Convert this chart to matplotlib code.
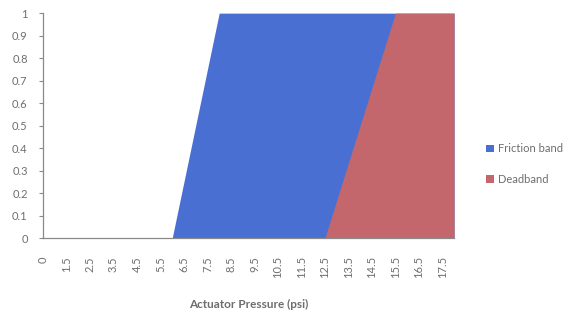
import matplotlib
matplotlib.use("Agg")
import matplotlib.pyplot as plt
import numpy as np

# Actuator pressure categories (psi)
pressure = [0, 1, 1.5, 2, 2.5, 3, 3.5, 4, 4.5, 5, 5.5, 6, 6.5, 7, 7.5, 8,
            8.5, 9, 9.5, 10, 10.5, 11, 11.5, 12, 12.5, 13, 13.5, 14, 14.5,
            15, 15.5, 16, 16.5, 17, 17.5, 18]

friction_band = [0, 0, 0, 0, 0, 0, 0, 0, 0, 0, 0, 0, 0.25, 0.5, 0.75, 1,
                 1, 1, 1, 1, 1, 1, 1, 1, 1, 1, 1, 1, 1, 1, 1, 1, 1, 1, 1, 1]

deadband = [0, 0, 0, 0, 0, 0, 0, 0, 0, 0, 0, 0, 0, 0, 0, 0,
            0, 0, 0, 0, 0, 0, 0, 0, 0, 1/6, 2/6, 3/6, 4/6, 5/6, 1,
            1, 1, 1, 1, 1]

y_ticks = [0, 0.1, 0.2, 0.3, 0.4, 0.5, 0.6, 0.7, 0.8, 0.9, 1]
y_tick_labels = ["0", "0.1", "0.2", "0.3", "0.4", "0.5", "0.6", "0.7", "0.8", "0.9", "1"]

blue = "#4a6fd2"
red = "#c4676c"
grey = "#8a8a8a"
text_grey = "#6e6e6e"

plt.rcParams["font.family"] = ["Lato", "DejaVu Sans"]

fig = plt.figure(figsize=(5.77, 3.2), dpi=100)
ax = fig.add_axes([0.0745, 0.256, 0.7125, 0.703])

x = np.arange(len(pressure))
ax.fill_between(x, 0, friction_band, color=blue, linewidth=0, label="Friction band")
ax.fill_between(x, 0, deadband, color=red, linewidth=0, label="Deadband")

ax.set_xlim(0, len(pressure) - 1)
ax.set_ylim(0, 1)

# label every other category, skipping the second one
label_idx = [0] + list(range(2, len(pressure), 2))
ax.set_xticks(label_idx)
ax.set_xticklabels([f"{pressure[i]:g}" for i in label_idx], rotation=90,
                   fontsize=8, color=text_grey)
ax.tick_params(axis="x", length=0, pad=13)

ax.set_yticks(y_ticks)
ax.set_yticklabels(y_tick_labels, fontsize=8, color=text_grey)
ax.tick_params(axis="y", length=3, color=grey, width=0.8, pad=8)

for side in ["top", "right"]:
    ax.spines[side].set_visible(False)
for side in ["left", "bottom"]:
    ax.spines[side].set_color(grey)
    ax.spines[side].set_linewidth(0.9)

ax.set_xlabel("Actuator Pressure (psi)", fontsize=8.5, fontweight="bold",
              color=text_grey, labelpad=15)

leg = fig.legend(loc="center left", bbox_to_anchor=(0.825, 0.4875), frameon=False,
                 fontsize=8, handlelength=0.7, handleheight=0.7,
                 handletextpad=0.35, labelspacing=1.75)
for t in leg.get_texts():
    t.set_color(text_grey)

fig.savefig("out.png", dpi=100, facecolor="white")
